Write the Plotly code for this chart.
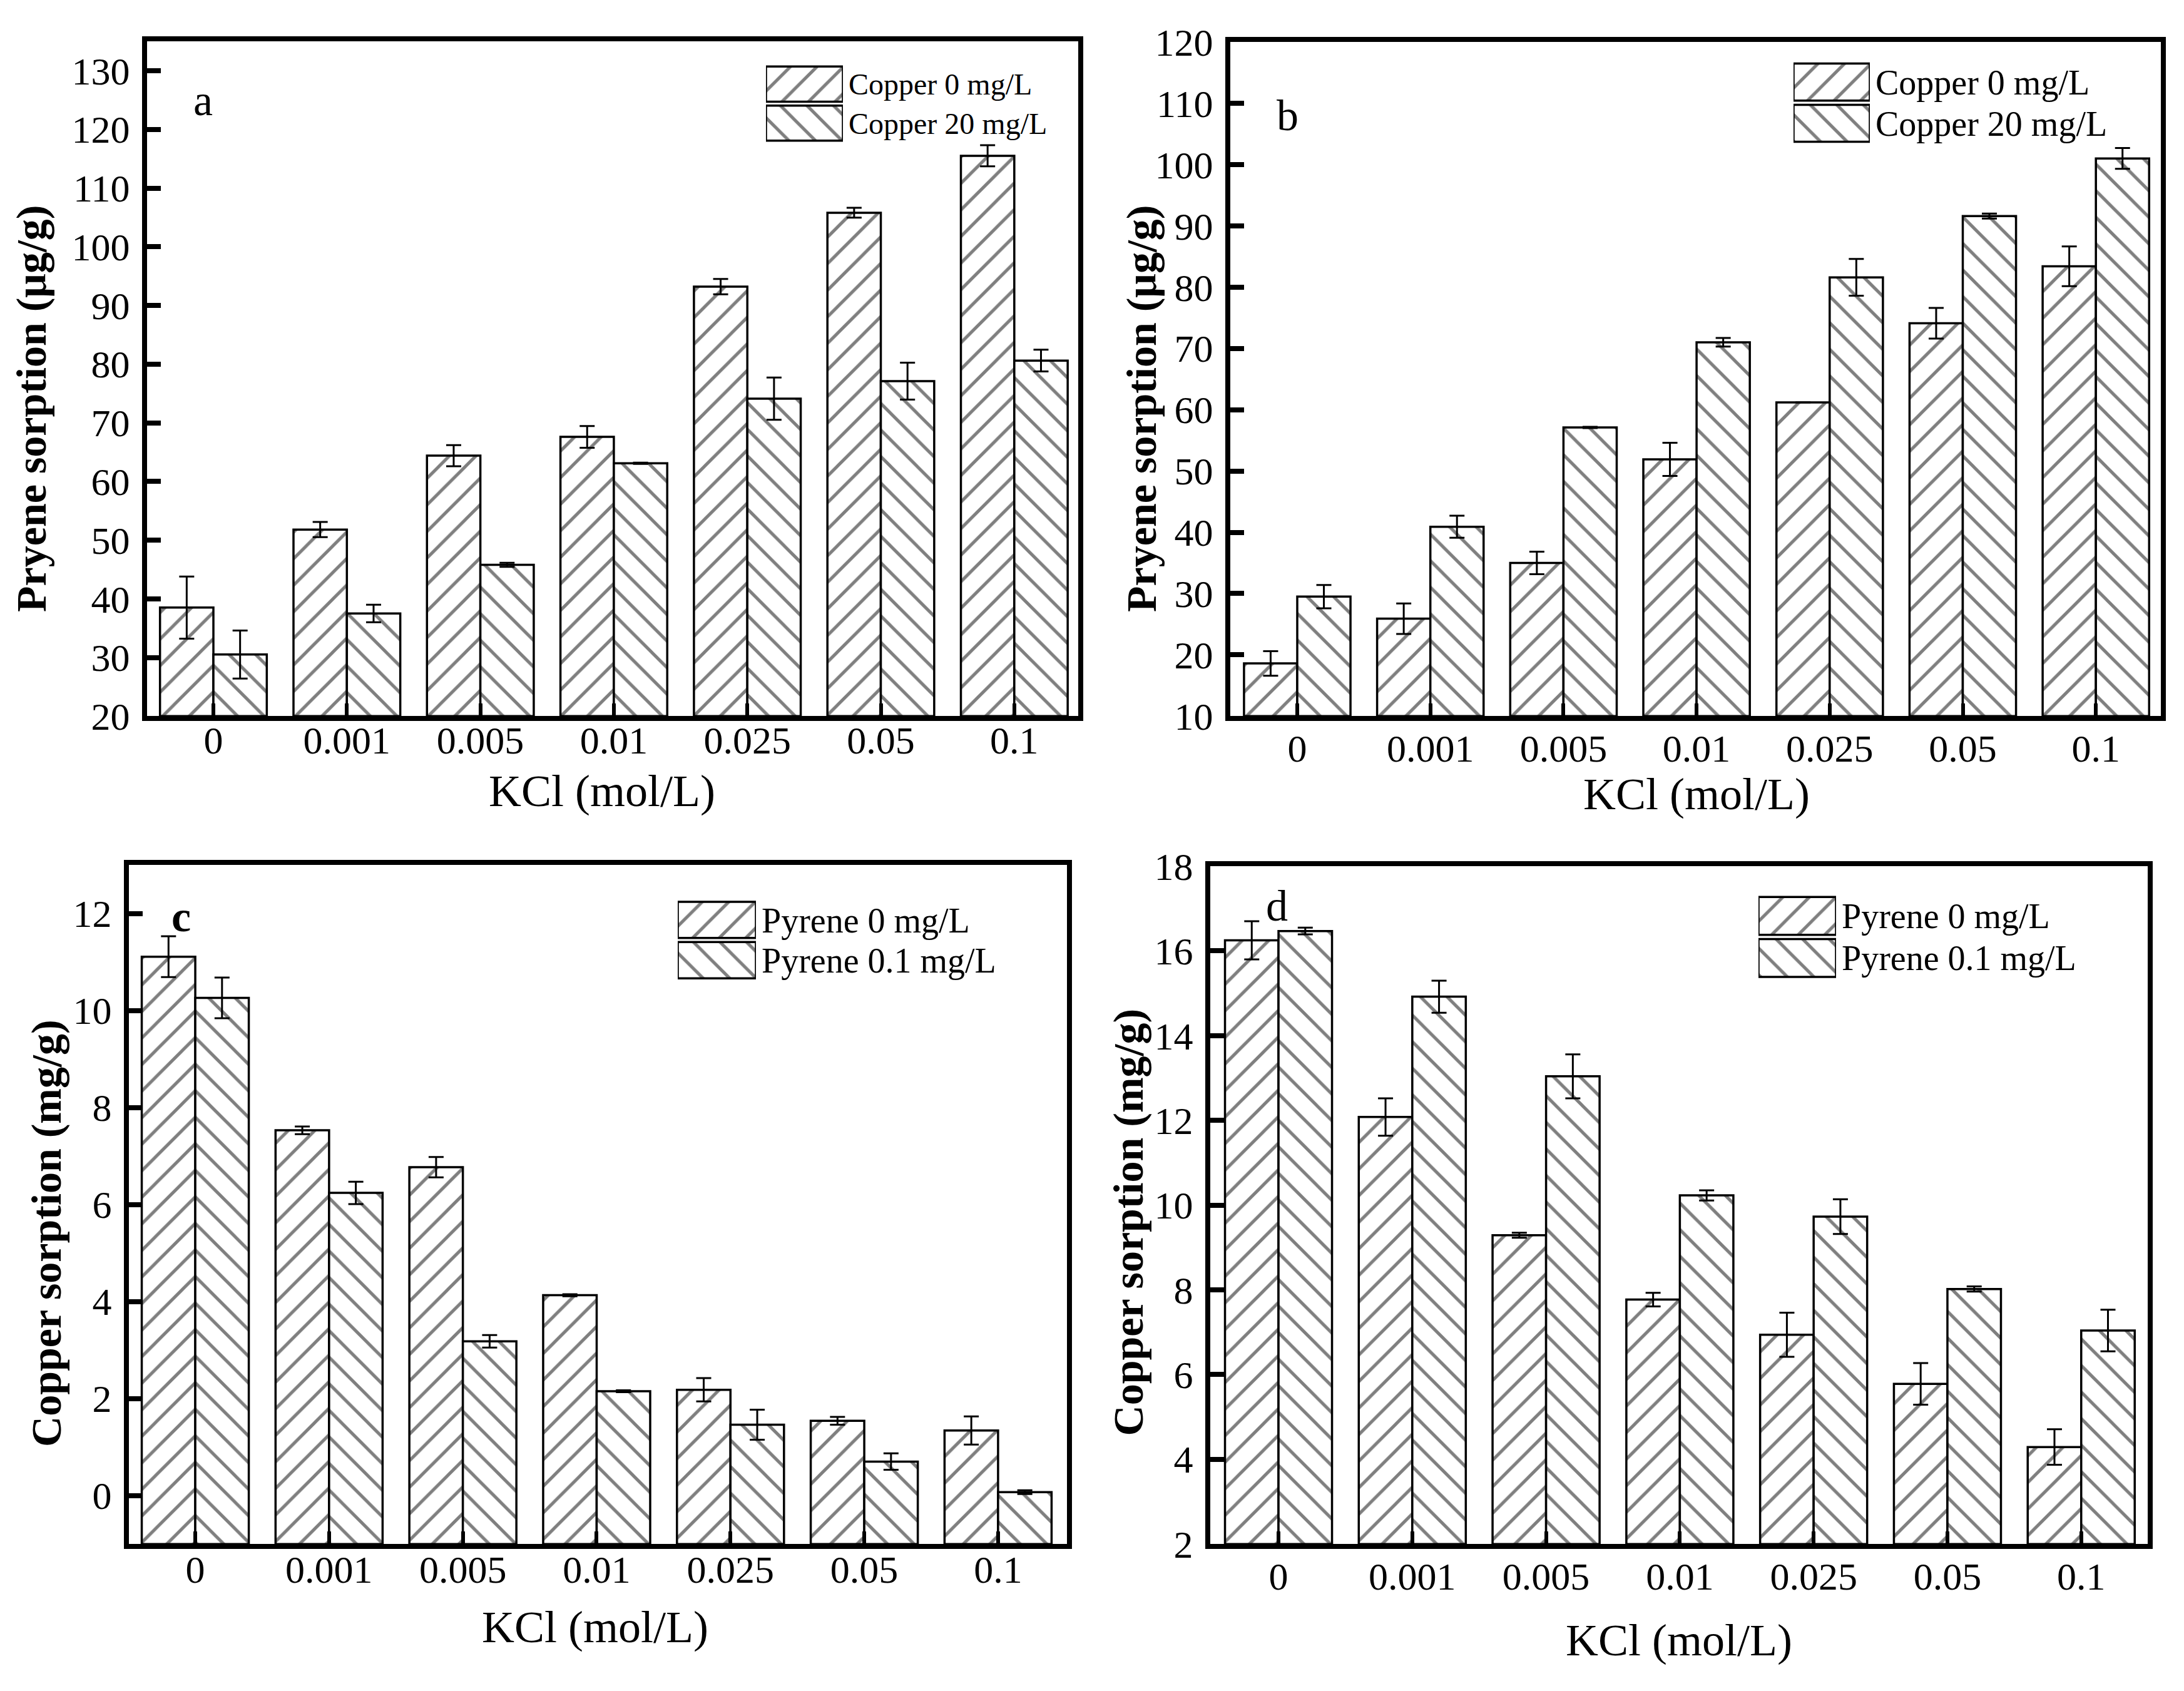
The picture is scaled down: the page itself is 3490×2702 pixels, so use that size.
import plotly.graph_objects as go

W, H = 3490, 2702
FONT = "Liberation Serif, Times New Roman, serif"

# ---------------- data ----------------
kcl = ["0", "0.001", "0.005", "0.01", "0.025", "0.05", "0.1"]

a_names = ["Copper 0 mg/L", "Copper 20 mg/L"]
a_cu0 = [38.5, 51.8, 64.4, 67.6, 93.2, 105.8, 115.5]
a_cu0_err = [5.3, 1.3, 1.8, 1.85, 1.3, 0.85, 1.8]
a_cu20 = [30.5, 37.5, 45.8, 63.1, 74.1, 77.1, 80.6]
a_cu20_err = [4.1, 1.5, 0.35, 0.1, 3.6, 3.15, 1.85]

b_names = ["Copper 0 mg/L", "Copper 20 mg/L"]
b_cu0 = [18.6, 25.9, 35.0, 51.9, 61.2, 74.1, 83.4]
b_cu0_err = [2.0, 2.5, 1.85, 2.7, 0.0, 2.5, 3.25]
b_cu20 = [29.5, 40.9, 57.1, 71.0, 81.6, 91.6, 101.0]
b_cu20_err = [1.9, 1.8, 0.1, 0.7, 3.0, 0.4, 1.7]

c_names = ["Pyrene 0 mg/L", "Pyrene 0.1 mg/L"]
c_py0 = [11.11, 7.53, 6.77, 4.13, 2.18, 1.54, 1.34]
c_py0_err = [0.42, 0.08, 0.21, 0.02, 0.24, 0.08, 0.29]
c_py01 = [10.26, 6.24, 3.18, 2.15, 1.46, 0.70, 0.07]
c_py01_err = [0.42, 0.23, 0.13, 0.02, 0.31, 0.17, 0.04]

d_names = ["Pyrene 0 mg/L", "Pyrene 0.1 mg/L"]
d_py0 = [16.25, 12.08, 9.29, 7.77, 6.94, 5.78, 4.29]
d_py0_err = [0.45, 0.44, 0.06, 0.16, 0.52, 0.49, 0.42]
d_py01 = [16.47, 14.92, 13.04, 10.23, 9.73, 8.02, 7.04]
d_py01_err = [0.08, 0.38, 0.52, 0.12, 0.41, 0.06, 0.49]

x_title = "KCl (mol/L)"
y_title_pyrene = "Pryene sorption (μg/g)"
y_title_copper = "Copper sorption (mg/g)"

# ---------------- layout specs (pixels) ----------------
def fx(p):
    return p / W

def fy(p):
    return 1 - p / H

patterns = ["/", "\\"]
TICK_FONT = 62
SOLIDITY = 0.17

panels = [
    dict(letter="a", bold=False, names=a_names,
         series=[(a_cu0, a_cu0_err), (a_cu20, a_cu20_err)],
         ytitle=y_title_pyrene, yrange=[20, 135], dtick=10,
         dom_x=(235, 1723), dom_y=(34, 1140), xrange=[-0.497, 6.479],
         letter_pos=(324, 131), ytitle_pos=(50, 636), xtitle_pos=(962, 1263),
         xstand=-23, ystand=7,
         sw_x=(1224, 1347), sw_y=(72, 200), sw_font=48),
    dict(letter="b", bold=False, names=b_names,
         series=[(b_cu0, b_cu0_err), (b_cu20, b_cu20_err)],
         ytitle=y_title_pyrene, yrange=[10, 120], dtick=10,
         dom_x=(1966, 3453), dom_y=(35, 1140), xrange=[-0.503, 6.488],
         letter_pos=(2057, 155), ytitle_pos=(1824, 636), xtitle_pos=(2711, 1268),
         xstand=-10, ystand=7,
         sw_x=(2866, 2988), sw_y=(67, 202), sw_font=56),
    dict(letter="c", bold=True, names=c_names,
         series=[(c_py0, c_py0_err), (c_py01, c_py01_err)],
         ytitle=y_title_copper, yrange=[-1, 13], dtick=2,
         dom_x=(206, 1705), dom_y=(1384, 2497), xrange=[-0.496, 6.515],
         letter_pos=(289, 1468), ytitle_pos=(74, 1988), xtitle_pos=(951, 2633),
         xstand=-21, ystand=7,
         sw_x=(1083, 1208), sw_y=(1441, 1573), sw_font=56),
    dict(letter="d", bold=False, names=d_names,
         series=[(d_py0, d_py0_err), (d_py01, d_py01_err)],
         ytitle=y_title_copper, yrange=[2, 18], dtick=2,
         dom_x=(1934, 3432), dom_y=(1386, 2497), xrange=[-0.51, 6.497],
         letter_pos=(2040, 1451), ytitle_pos=(1803, 1970), xtitle_pos=(2683, 2655),
         xstand=-10, ystand=7,
         sw_x=(2810, 2934), sw_y=(1433, 1571), sw_font=56),
]

fig = go.Figure()
layout = dict(
    width=W, height=H,
    margin=dict(l=0, r=0, t=0, b=0),
    paper_bgcolor="white", plot_bgcolor="white",
    barmode="group", bargap=0.2, bargroupgap=0,
    showlegend=False,
    font=dict(family=FONT, color="black", size=TICK_FONT),
)
annotations = []

for i, p in enumerate(panels):
    n = i + 1
    sfx = "" if n == 1 else str(n)
    xa, ya = "x" + sfx, "y" + sfx
    base = p["yrange"][0]
    for k, (vals, errs) in enumerate(p["series"]):
        fig.add_trace(go.Bar(
            x=kcl,
            y=[v - base for v in vals],
            base=base,
            name=p["names"][k],
            customdata=vals,
            hovertemplate="%{x}: %{customdata}<extra>" + p["names"][k] + "</extra>",
            xaxis=xa, yaxis=ya,
            marker=dict(
                color="white",
                line=dict(color="black", width=3.5),
                pattern=dict(shape=patterns[k], size=30, solidity=SOLIDITY,
                             fgcolor="black", bgcolor="white"),
            ),
            error_y=dict(type="data", array=errs, visible=True,
                         color="black", thickness=3, width=12),
        ))
    layout["xaxis" + sfx] = dict(
        domain=[fx(p["dom_x"][0]), fx(p["dom_x"][1])], anchor=ya,
        type="category", categoryorder="array", categoryarray=kcl,
        range=p["xrange"], showgrid=False, zeroline=False,
        showline=True, linecolor="black", linewidth=8, mirror=True,
        ticks="inside", ticklen=20, tickwidth=6, tickcolor="black",
        tickfont=dict(family=FONT, size=TICK_FONT, color="black"),
        ticklabelstandoff=p["xstand"],
    )
    layout["yaxis" + sfx] = dict(
        domain=[fy(p["dom_y"][1]), fy(p["dom_y"][0])], anchor=xa,
        range=p["yrange"], tick0=p["yrange"][0] if p["yrange"][0] >= 0 else 0,
        dtick=p["dtick"], showgrid=False, zeroline=False,
        showline=True, linecolor="black", linewidth=8, mirror=True,
        ticks="inside", ticklen=22, tickwidth=8, tickcolor="black",
        tickfont=dict(family=FONT, size=TICK_FONT, color="black"),
        ticklabelstandoff=p["ystand"],
    )

    # legend keys drawn as patterned bars on a small overlay axis
    m = n + 4
    sx, sy = "x" + str(m), "y" + str(m)
    fig.add_trace(go.Bar(
        x=[1] * len(p["names"]), y=p["names"], orientation="h",
        width=0.9, offset=-0.45, xaxis=sx, yaxis=sy, hoverinfo="skip",
        marker=dict(
            color="white",
            line=dict(color="black", width=3.5),
            pattern=dict(shape=patterns[:len(p["names"])], size=30, solidity=SOLIDITY,
                         fgcolor="black", bgcolor="white"),
        ),
    ))
    layout["xaxis" + str(m)] = dict(
        domain=[fx(p["sw_x"][0]), fx(p["sw_x"][1])], anchor=sy,
        range=[0, 1], visible=False, fixedrange=True,
    )
    layout["yaxis" + str(m)] = dict(
        domain=[fy(p["sw_y"][1]), fy(p["sw_y"][0])], anchor=sx,
        type="category", range=[len(p["names"]) - 0.5, -0.5], side="right",
        tickmode="array", tickvals=p["names"], ticktext=p["names"],
        showgrid=False, zeroline=False, showline=False, ticks="",
        tickfont=dict(family=FONT, size=p["sw_font"], color="black"),
        ticklabelstandoff=8, fixedrange=True,
    )

    letter = "<b>%s</b>" % p["letter"] if p["bold"] else p["letter"]
    annotations.append(dict(
        text=letter, x=fx(p["letter_pos"][0]), y=fy(p["letter_pos"][1]),
        xref="paper", yref="paper", showarrow=False,
        xanchor="center", yanchor="middle",
        font=dict(family=FONT, size=70, color="black"),
    ))
    annotations.append(dict(
        text="<b>%s</b>" % p["ytitle"], x=fx(p["ytitle_pos"][0]), y=fy(p["ytitle_pos"][1]),
        xref="paper", yref="paper", showarrow=False, textangle=-90,
        xanchor="center", yanchor="middle",
        font=dict(family=FONT, size=68, color="black"),
    ))
    annotations.append(dict(
        text=x_title, x=fx(p["xtitle_pos"][0]), y=fy(p["xtitle_pos"][1]),
        xref="paper", yref="paper", showarrow=False,
        xanchor="center", yanchor="middle",
        font=dict(family=FONT, size=72, color="black"),
    ))

layout["annotations"] = annotations
fig.update_layout(**layout)

fig.write_html("out.html", config={"displayModeBar": False},
               post_script="document.body.style.margin='0';document.body.style.overflow='hidden';")
